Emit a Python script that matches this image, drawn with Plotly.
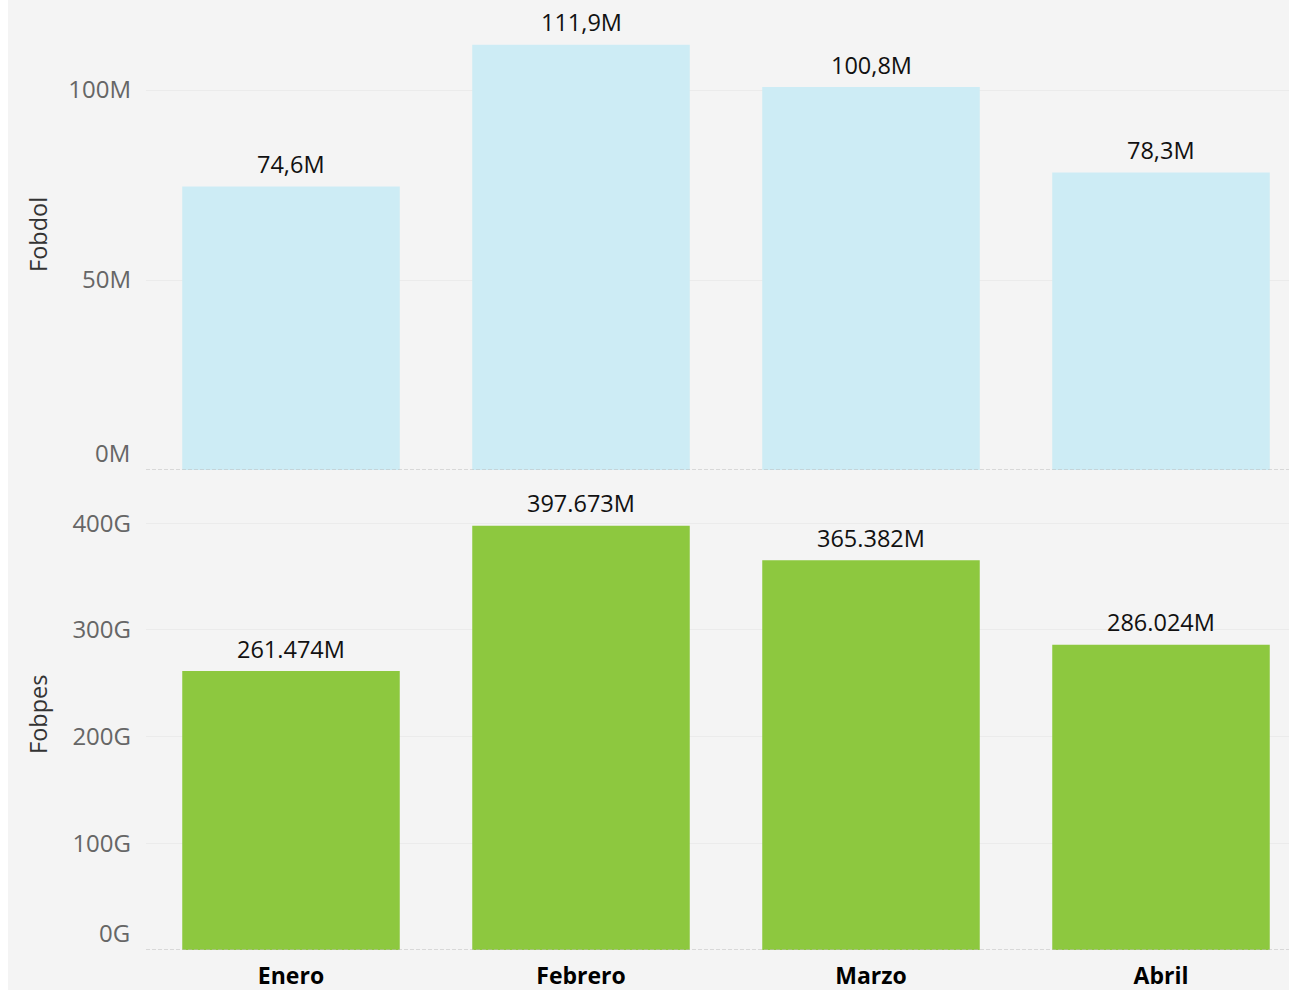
import plotly.graph_objects as go
from plotly.subplots import make_subplots

months = ["Enero", "Febrero", "Marzo", "Abril"]
fobdol_m = [74.6, 111.9, 100.8, 78.3]
fobdol_text = ["74,6M", "111,9M", "100,8M", "78,3M"]
fobpes_g = [261.474, 397.673, 365.382, 286.024]
fobpes_text = ["261.474M", "397.673M", "365.382M", "286.024M"]
top_ticks = [50, 100]
top_ticktext = ["50M", "100M"]
bot_ticks = [100, 200, 300, 400]
bot_ticktext = ["100G", "200G", "300G", "400G"]

BG = "#f4f4f4"
FONT = "Open Sans"
H = 990
PLOT_H = 950.0

fig = make_subplots(rows=2, cols=1, shared_xaxes=True)

fig.add_trace(go.Bar(x=months, y=fobdol_m, marker_color="#cdecf5"), row=1, col=1)
fig.add_trace(go.Bar(x=months, y=fobpes_g, marker_color="#8dc83f"), row=2, col=1)
fig.update_traces(marker_line_width=0, hoverinfo="skip")

fig.update_layout(
    width=1310, height=H,
    margin=dict(l=138, r=12, t=0, b=40),
    paper_bgcolor=BG, plot_bgcolor=BG,
    bargap=0.25, showlegend=False,
    font=dict(family=FONT, size=24, color="#666666"),
)

axis_common = dict(showgrid=True, gridcolor="#ebebeb", gridwidth=1, zeroline=False,
                   showline=False, ticks="", ticklabelstandoff=14,
                   tickfont=dict(family=FONT, size=24, color="#666666"))
fig.update_yaxes(range=[0, 123.7], tickvals=top_ticks, ticktext=top_ticktext,
                 domain=[480 / PLOT_H, 1], row=1, col=1, **axis_common)
fig.update_yaxes(range=[0, 440.5], tickvals=bot_ticks, ticktext=bot_ticktext,
                 domain=[0, 470 / PLOT_H], row=2, col=1, **axis_common)
fig.update_xaxes(showgrid=False, zeroline=False, showline=False, ticks="")
fig.update_xaxes(tickfont=dict(family=FONT, size=23, color="#000000", weight="bold"),
                 ticklabelstandoff=10, row=2, col=1)

# value labels above bars
for xr, yr, vals, texts in [("x", "y", fobdol_m, fobdol_text), ("x2", "y2", fobpes_g, fobpes_text)]:
    for m, v, t in zip(months, vals, texts):
        fig.add_annotation(text=t, xref=xr, yref=yr, x=m, y=v, xanchor="center", yanchor="middle",
                           yshift=22.5, showarrow=False,
                           font=dict(family=FONT, size=23.5, color="#111111"))

# dashed baselines
for yref in ["y", "y2"]:
    fig.add_shape(type="line", xref="x domain", yref=yref, x0=0, x1=1, y0=0, y1=0,
                  line=dict(color="#bcbcbc", width=1, dash="4px,2px"))

# zero labels, shifted up like the reference
for yref, t in [("y", "0M"), ("y2", "0G")]:
    fig.add_annotation(text=t, xref="paper", yref=yref, x=0, y=0, xanchor="right", yanchor="middle",
                       xshift=-14, yshift=18, showarrow=False,
                       font=dict(family=FONT, size=24, color="#666666"))

# axis titles
for yref, t in [("y domain", "Fobdol"), ("y2 domain", "Fobpes")]:
    fig.add_annotation(text=t, xref="paper", yref=yref, x=0, y=0.5, xanchor="center",
                       yanchor="middle", xshift=-108, textangle=-90, showarrow=False,
                       font=dict(family=FONT, size=23.5, color="#333333"))

fig.write_html("out.html",
               post_script="document.body.style.margin='0 0 0 8px';"
                           "document.body.style.overflow='hidden';")
